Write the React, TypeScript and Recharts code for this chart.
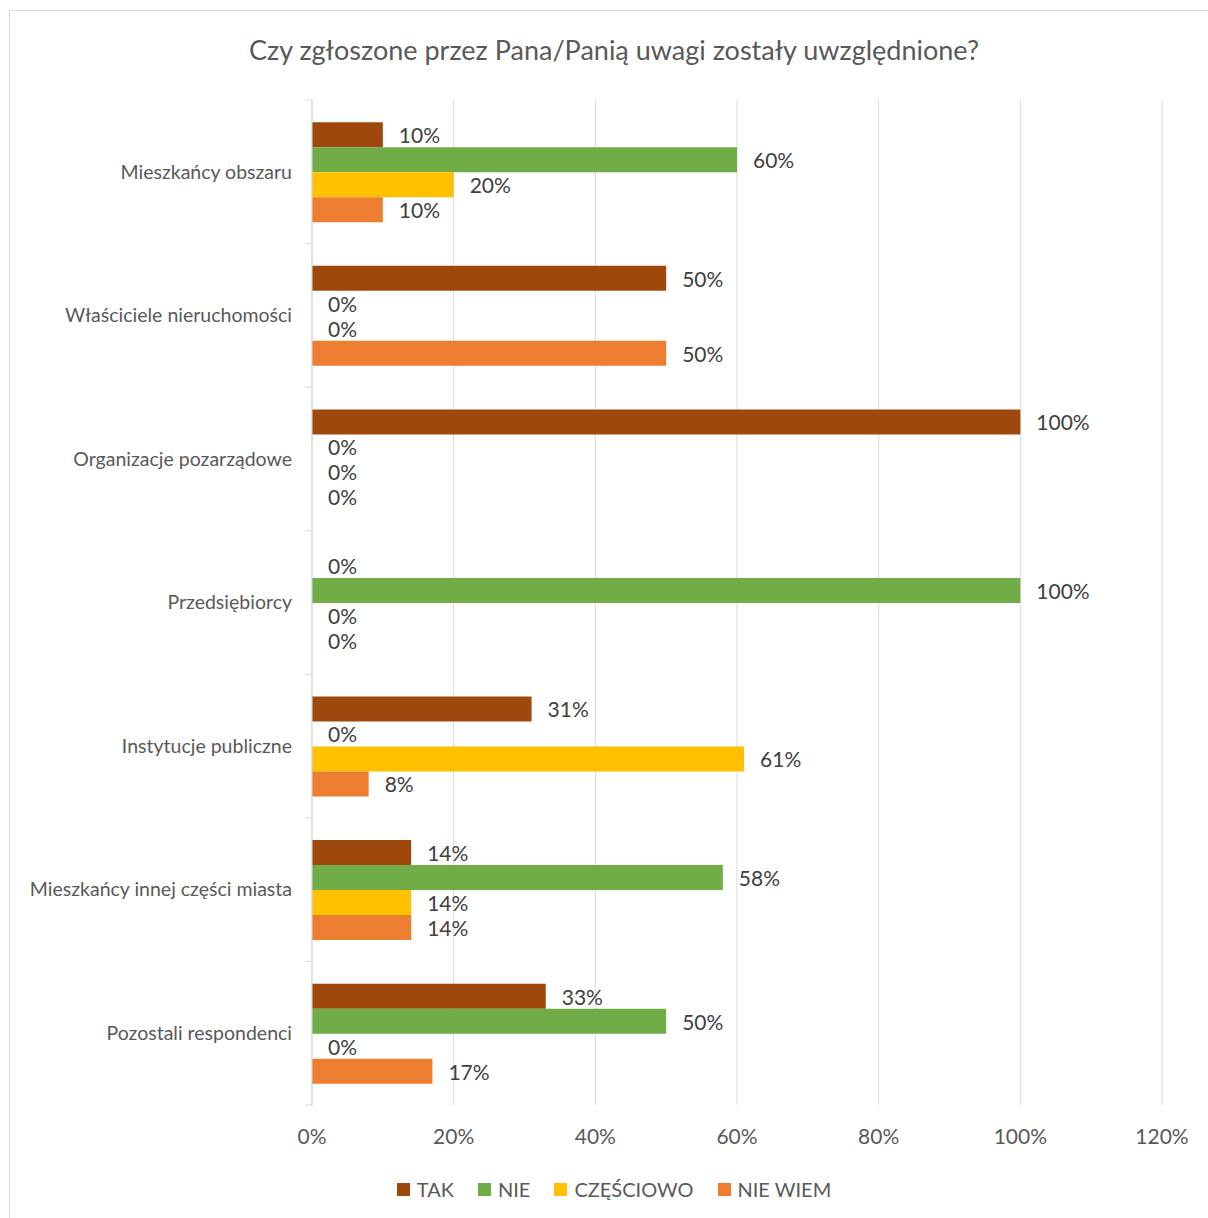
import { BarChart, Bar, XAxis, YAxis, CartesianGrid, LabelList } from 'recharts'

const categories = [
  'Mieszkańcy obszaru',
  'Właściciele nieruchomości',
  'Organizacje pozarządowe',
  'Przedsiębiorcy',
  'Instytucje publiczne',
  'Mieszkańcy innej części miasta',
  'Pozostali respondenci',
]

const tak = [10, 50, 100, 0, 31, 14, 33]
const nie = [60, 0, 0, 100, 0, 58, 50]
const czesciowo = [20, 0, 0, 0, 61, 14, 0]
const nieWiem = [10, 50, 0, 0, 8, 14, 17]

const xTicks = [0, 20, 40, 60, 80, 100, 120]

const SERIES = [
  { key: 'tak', label: 'TAK', color: '#9E480E' },
  { key: 'nie', label: 'NIE', color: '#70AD47' },
  { key: 'czesciowo', label: 'CZĘŚCIOWO', color: '#FFC000' },
  { key: 'nieWiem', label: 'NIE WIEM', color: '#ED7D31' },
]

const data = categories.map((name, i) => ({
  name,
  tak: tak[i],
  nie: nie[i],
  czesciowo: czesciowo[i],
  nieWiem: nieWiem[i],
}))

const FONT = 'Lato, "Noto Sans", sans-serif'
const W = 1208
const H = 1208
const MARGIN = { top: 90, right: 55, bottom: 73, left: 0 }
const X_AXIS_H = 40
const PLOT_H = H - MARGIN.top - MARGIN.bottom - X_AXIS_H
const BAND = PLOT_H / categories.length

// category label + Excel-style tick marks between categories
function CategoryTick(props: any) {
  const { x, y, payload, index } = props
  return (
    <g>
      <line x1={x + 13} x2={x + 20} y1={y - BAND / 2} y2={y - BAND / 2} stroke="#d9d9d9" />
      {index === categories.length - 1 && (
        <line x1={x + 13} x2={x + 20} y1={y + BAND / 2} y2={y + BAND / 2} stroke="#d9d9d9" />
      )}
      <text x={x} y={y} dy="0.35em" textAnchor="end" fill="#595959" fontSize={19.5} fontFamily={FONT}>
        {payload.value}
      </text>
    </g>
  )
}

export default function App() {
  return (
    <div style={{ position: 'absolute', left: 9, top: 10, width: 1199, height: 1208, overflow: 'hidden' }}>
      <div
        style={{
          position: 'relative',
          width: W,
          height: H + 2,
          border: '1px solid #d9d9d9',
          boxSizing: 'border-box',
          background: '#fff',
          fontFamily: FONT,
        }}
      >
        <div
          style={{
            position: 'absolute',
            top: 22,
            left: 0,
            width: W,
            textAlign: 'center',
            fontSize: 27,
            color: '#595959',
          }}
        >
          Czy zgłoszone przez Pana/Panią uwagi zostały uwzględnione?
        </div>

        <div style={{ position: 'absolute', left: -1, top: -1 }}>
          <BarChart
            width={W}
            height={H}
            data={data}
            layout="vertical"
            margin={MARGIN}
            barCategoryGap="15.5%"
            barGap={0}
          >
            <CartesianGrid horizontal={false} stroke="#d9d9d9" />
            <XAxis
              type="number"
              domain={[0, 120]}
              ticks={xTicks}
              tickFormatter={(v: number) => `${v}%`}
              axisLine={false}
              tickLine={false}
              tickSize={0}
              tickMargin={24}
              height={X_AXIS_H}
              tick={{ fill: '#595959', fontSize: 21, fontFamily: FONT }}
              interval={0}
            />
            <YAxis
              type="category"
              dataKey="name"
              width={303}
              axisLine={{ stroke: '#d9d9d9' }}
              tickLine={false}
              tickSize={0}
              tickMargin={20}
              interval={0}
              tick={<CategoryTick />}
            />
            {SERIES.map((s) => (
              <Bar key={s.key} dataKey={s.key} fill={s.color} minPointSize={0.01} isAnimationActive={false}>
                <LabelList
                  dataKey={s.key}
                  position="right"
                  offset={16}
                  formatter={(v: any) => `${v}%`}
                  fill="#404040"
                  fontSize={21}
                  fontFamily={FONT}
                  dy={1}
                />
              </Bar>
            ))}
          </BarChart>
        </div>

        <div
          style={{
            position: 'absolute',
            top: 1166,
            left: 0,
            width: W,
            display: 'flex',
            justifyContent: 'center',
            gap: 24,
            fontSize: 20,
            color: '#595959',
          }}
        >
          {SERIES.map((s) => (
            <div key={s.key} style={{ display: 'flex', alignItems: 'center' }}>
              <span style={{ width: 13, height: 13, background: s.color, marginRight: 7, display: 'inline-block' }} />
              <span>{s.label}</span>
            </div>
          ))}
        </div>
      </div>
    </div>
  )
}
